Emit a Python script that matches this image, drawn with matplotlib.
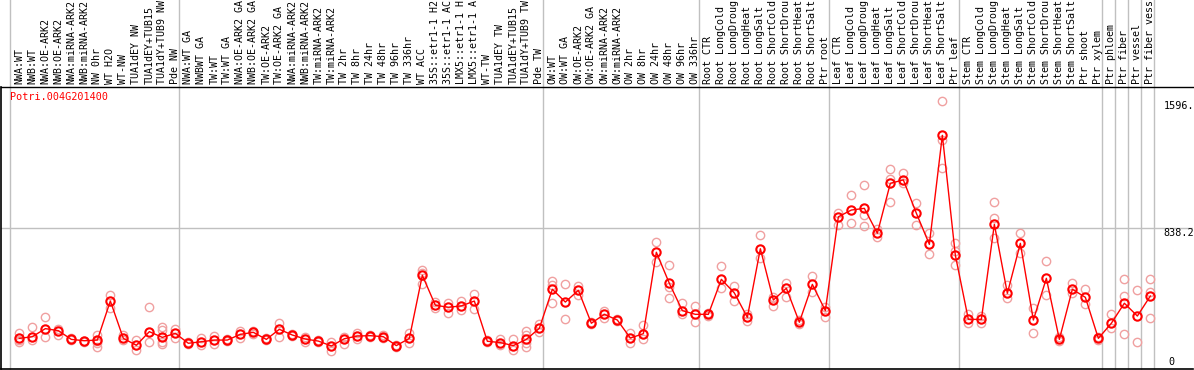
import matplotlib
matplotlib.use('Agg')
import matplotlib.pyplot as plt
import matplotlib.transforms as mtransforms

plt.rcParams['font.family'] = ['DejaVu Sans Mono']

gene = 'Potri.004G201400'

# 样品名称（按组），图中只显示前14个字符
grp_nw = ['NWA:WT', 'NWB:WT', 'NWA:OE-ARK2', 'NWB:OE-ARK2', 'NWA:miRNA-ARK2', 'NWB:miRNA-ARK2',
          'NW 0hr', 'WT H2O', 'WT-NW', 'TUA1dEY NW', 'TUA1dEY+TUB15', 'TUA1dY+TUB9 NW', 'Pde NW']
grp_tw = ['NWA:WT GA', 'NWBWT GA', 'TW:WT', 'TW:WT GA', 'NWA:OE-ARK2 GA', 'NWB:OE-ARK2 GA',
          'TW:OE-ARK2', 'TW:OE-ARK2 GA', 'NWA:miRNA-ARK2', 'NWB:miRNA-ARK2', 'TW:miRNA-ARK2',
          'TW:miRNA-ARK2', 'TW 2hr', 'TW 8hr', 'TW 24hr', 'TW 48hr', 'TW 96hr', 'TW 336hr', 'WT ACC',
          '35S::etr1-1 H2', '35S::etr1-1 AC', 'LMX5::etr1-1 H', 'LMX5::etr1-1 A', 'WT-TW',
          'TUA1dEY TW', 'TUA1dEY+TUB15', 'TUA1dY+TUB9 TW', 'Pde TW']
grp_ow = ['OW:WT', 'OW:WT GA', 'OW:OE-ARK2', 'OW:OE-ARK2 GA', 'OW:miRNA-ARK2', 'OW:miRNA-ARK2',
          'OW 2hr', 'OW 8hr', 'OW 24hr', 'OW 48hr', 'OW 96hr', 'OW 336hr']
grp_root = ['Root CTR', 'Root LongCold', 'Root LongDroug', 'Root LongHeat', 'Root LongSalt',
            'Root ShortCold', 'Root ShortDrou', 'Root ShortHeat', 'Root ShortSalt', 'Ptr root']
grp_leaf = ['Leaf CTR', 'Leaf LongCold', 'Leaf LongDroug', 'Leaf LongHeat', 'Leaf LongSalt',
            'Leaf ShortCold', 'Leaf ShortDrou', 'Leaf ShortHeat', 'Leaf ShortSalt', 'Ptr leaf']
grp_stem = ['Stem CTR', 'Stem LongCold', 'Stem LongDroug', 'Stem LongHeat', 'Stem LongSalt',
            'Stem ShortCold', 'Stem ShortDrou', 'Stem ShortHeat', 'Stem ShortSalt',
            'Ptr shoot', 'Ptr xylem']
grp_ptr = [['Ptr phloem'], ['Ptr fiber'], ['Ptr vessel'], ['Ptr fiber vess']]

groups = [grp_nw, grp_tw, grp_ow, grp_root, grp_leaf, grp_stem] + grp_ptr
samples = [s for g in groups for s in g]

# 平均表达量
means = [182, 192, 240, 228, 176, 168, 172, 404, 182, 141, 222, 188, 212,
         153, 162, 172, 172, 206, 218, 176, 236, 202, 178, 166, 137, 180, 196, 198, 192, 139, 182,
         557, 379, 367, 375, 404, 165, 157, 139, 176, 242, 474,
         398, 468, 272, 325, 291, 184, 210, 694, 509, 347, 325, 325,
         533, 452, 307, 715, 410, 480, 278, 503, 347,
         905, 945, 955, 807, 1104, 1124, 926, 741, 1389, 676,
         295, 295, 860, 450, 747, 291, 539, 176, 474, 426, 182,
         272, 391, 315, 434]

# 各重复的表达量
reps = [[212, 162, 172], [248, 172], [311, 192], [240, 202], [170, 182], [165, 160],
        [202, 153, 133, 165], [440, 361], [202, 175], [172, 113], [367, 159], [248, 230, 162, 150],
        [238, 182],
        [158, 148], [186, 143], [198, 150], [176, 168], [228, 182], [228, 210], [182, 170],
        [272, 192], [210, 195], [192, 162], [172, 160], [162, 109], [192, 149], [216, 176],
        [202, 192], [202, 182], [143, 133], [212, 157], [589, 570, 505], [400, 365], [391, 335],
        [404, 351], [446, 355], [172, 158], [180, 141], [176, 113], [228, 202, 153, 129],
        [266, 218], [525, 499, 391],
        [505, 295], [495, 442], [280, 265], [345, 305], [295, 287], [216, 153], [262, 176],
        [757, 638], [618, 486, 420], [394, 327], [375, 281], [333, 317],
        [612, 480], [493, 404], [327, 287], [797, 658], [430, 375], [513, 430], [291, 265],
        [553, 456], [370, 311],
        [929, 856], [1033, 866], [1094, 916, 850], [783, 830], [1187, 1128, 991], [1163, 1104],
        [985, 856], [810, 682], [1596, 1361, 1197], [747, 700, 618],
        [327, 275], [315, 275], [991, 900, 777], [499, 420], [807, 688], [361, 212], [640, 440],
        [190, 165], [513, 450], [474, 386], [192, 172],
        [327, 242], [533, 434, 206], [470, 159], [533, 460, 301]]

y_max = 1596
y_mid = 838.2

W, H = 1194, 370
fig = plt.figure(figsize=(W / 100, H / 100), dpi=100)
ax = fig.add_axes([1 / W, 1 / H, 1192 / W, 282 / H])
ax.set_xlim(-1.41, 90.28)
ax.set_ylim(0, 2 * y_mid)

# 分组竖线
bounds = [0]
for g in groups:
    bounds.append(bounds[-1] + len(g))
for b in bounds:
    ax.axvline(b - 0.72, ymin=0, ymax=1.31, color='#c0c0c0', lw=1, clip_on=False, zorder=0)
ax.axhline(y_mid, color='#c0c0c0', lw=1, zorder=0)

xs = list(range(len(samples)))
for i, r in enumerate(reps):
    ax.plot([i] * len(r), r, 'o', ms=6, mfc='none', mec='#f0a0a0', mew=1, zorder=2)
ax.plot(xs, means, '-', color='red', lw=1, zorder=3)
ax.plot(xs, means, 'o', ms=6, mfc='none', mec='red', mew=1.5, zorder=4)

# 样品名称
trans = mtransforms.blended_transform_factory(ax.transData, ax.transAxes)
for i, s in enumerate(samples):
    ax.text(i, 1.01, s, rotation=90, ha='center', va='bottom', fontsize=7.2,
            transform=trans, clip_on=False)

ax.text(-0.72, 1615, gene, color='red', fontsize=7.3, va='center', ha='left')
ax.text(88.0, y_max, '1596.', fontsize=7.3, va='top', ha='left')
ax.text(88.0, y_mid, '838.2', fontsize=7.3, va='top', ha='left')
ax.text(88.4, 12, '0', fontsize=7.3, va='bottom', ha='left')

for sp in ['top', 'right']:
    ax.spines[sp].set_visible(False)
ax.spines['left'].set_linewidth(1.2)
ax.spines['bottom'].set_linewidth(1.2)
ax.plot([-1.41, 90.28], [2 * y_mid, 2 * y_mid], color='black', lw=1, clip_on=False)
ax.set_xticks([])
ax.set_yticks([])

plt.savefig('out.png', dpi=100)
